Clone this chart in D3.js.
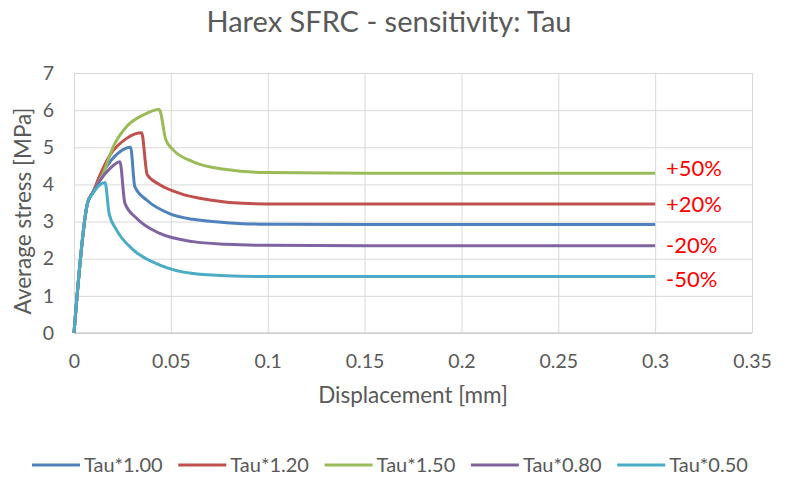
<!DOCTYPE html>
<html>
<head>
<meta charset="utf-8">
<script src="https://cdn.jsdelivr.net/npm/d3@7"></script>
<style>
  body { margin: 0; background: #fff; }
  text { font-family: Lato, "Open Sans", sans-serif; fill: #595959; }
</style>
</head>
<body>
<script>
var W = 785, H = 477;

// data
var titleText = "Harex SFRC - sensitivity: Tau";
var seriesNames = ["Tau*1.00", "Tau*1.20", "Tau*1.50", "Tau*0.80", "Tau*0.50"];
var seriesColors = ["#4f81bd", "#c0504d", "#9bbb59", "#8064a2", "#4bacc6"];

var dispTau100 = [0, 0.007, 0.0099, 0.0134, 0.0186, 0.0237, 0.0292, 0.0314, 0.0375, 0.05, 0.0615, 0.0787, 0.096, 0.15, 0.3];
var stressTau100 = [0, 3.5, 3.8, 4.2, 4.61, 4.88, 5.0, 3.94, 3.58, 3.2, 3.06, 2.97, 2.93, 2.92, 2.92];

var dispTau120 = [0, 0.007, 0.0099, 0.0134, 0.0186, 0.0272, 0.0349, 0.0378, 0.0443, 0.0546, 0.0701, 0.0873, 0.1045, 0.15, 0.3];
var stressTau120 = [0, 3.5, 3.8, 4.25, 4.79, 5.24, 5.39, 4.26, 3.99, 3.76, 3.58, 3.49, 3.47, 3.47, 3.47];

var dispTau150 = [0, 0.007, 0.0099, 0.0151, 0.0203, 0.0272, 0.0357, 0.044, 0.0474, 0.0512, 0.0615, 0.0787, 0.0993, 0.15, 0.3];
var stressTau150 = [0, 3.5, 3.8, 4.3, 5.02, 5.56, 5.87, 6.02, 5.2, 4.93, 4.61, 4.4, 4.32, 4.3, 4.3];

var dispTau080 = [0, 0.007, 0.0099, 0.0134, 0.0186, 0.0237, 0.0263, 0.0323, 0.0443, 0.0615, 0.0787, 0.0993, 0.15, 0.3];
var stressTau080 = [0, 3.5, 3.8, 4.1, 4.43, 4.61, 3.49, 3.09, 2.68, 2.46, 2.39, 2.36, 2.35, 2.35];

var dispTau050 = [0, 0.007, 0.0099, 0.0134, 0.016, 0.0182, 0.022, 0.0306, 0.0443, 0.0615, 0.0787, 0.1045, 0.15, 0.3];
var stressTau050 = [0, 3.5, 3.77, 3.99, 4.05, 3.2, 2.77, 2.24, 1.83, 1.6, 1.54, 1.52, 1.52, 1.52];

var xTicks = [0, 0.05, 0.1, 0.15, 0.2, 0.25, 0.3, 0.35];
var yTicks = [0, 1, 2, 3, 4, 5, 6, 7];

var noteLabels = ["+50%", "+20%", "-20%", "-50%"];

var allDisp = [dispTau100, dispTau120, dispTau150, dispTau080, dispTau050];
var allStress = [stressTau100, stressTau120, stressTau150, stressTau080, stressTau050];

var series = [];
for (var s = 0; s < seriesNames.length; s++) {
    var pts = [];
    for (var i = 0; i < allDisp[s].length; i++) {
        pts.push({x: allDisp[s][i], y: allStress[s][i]});
    }
    series.push({name: seriesNames[s], color: seriesColors[s], pts: pts});
}

var plot = {left: 74, right: 752, top: 73, bottom: 333};

var x = d3.scaleLinear().domain([0, 0.35]).range([plot.left, plot.right]);
var y = d3.scaleLinear().domain([0, 7]).range([plot.bottom, plot.top]);

var svg = d3.select("body").append("svg")
    .attr("width", W)
    .attr("height", H);

// title
svg.append("text")
    .attr("x", 389).attr("y", 32)
    .attr("text-anchor", "middle")
    .style("font-size", "29px")
    .text(titleText);

// gridlines + tick labels via axes
var gx = svg.append("g")
    .attr("transform", "translate(0," + plot.bottom + ")")
    .call(d3.axisBottom(x).tickValues(xTicks).tickSize(-(plot.bottom - plot.top)).tickPadding(21)
        .tickFormat(function(d) { return d3.format("~g")(+d.toFixed(2)); }));
gx.select(".domain").remove();
gx.selectAll("line").attr("stroke", "#d9d9d9");
gx.selectAll("text").style("font-size", "19.5px").attr("fill", "#595959");

var gy = svg.append("g")
    .attr("transform", "translate(" + plot.left + ",0)")
    .call(d3.axisLeft(y).tickValues(yTicks).tickSize(-(plot.right - plot.left)).tickPadding(20)
        .tickFormat(d3.format("d")));
gy.select(".domain").remove();
gy.selectAll("line").attr("stroke", "#d9d9d9");
gy.selectAll("text").style("font-size", "19.5px").attr("fill", "#595959");

// axis base line
svg.append("line")
    .attr("x1", plot.left).attr("x2", plot.right)
    .attr("y1", y(0)).attr("y2", y(0))
    .attr("stroke", "#bfbfbf");

// axis titles
svg.append("text")
    .attr("x", 413).attr("y", 403)
    .attr("text-anchor", "middle")
    .style("font-size", "22.5px")
    .text("Displacement [mm]");

svg.append("text")
    .attr("transform", "translate(31,211) rotate(-90)")
    .attr("text-anchor", "middle")
    .style("font-size", "22.5px")
    .text("Average stress [MPa]");

// curves
var line = d3.line()
    .x(function(d) { return x(d.x); })
    .y(function(d) { return y(d.y); })
    .curve(d3.curveMonotoneX);

svg.selectAll("path.curve")
    .data(series)
    .enter()
    .append("path")
    .attr("class", "curve")
    .attr("d", function(d) { return line(d.pts); })
    .attr("fill", "none")
    .attr("stroke", function(d) { return d.color; })
    .attr("stroke-width", 3)
    .attr("stroke-linejoin", "round");

// red percentage notes
var noteY = [168, 204, 245, 279];
svg.selectAll("text.note")
    .data(noteLabels)
    .enter()
    .append("text")
    .attr("class", "note")
    .attr("x", 666)
    .attr("y", function(d, i) { return noteY[i] + 8; })
    .style("font-size", "22px")
    .style("fill", "#ff0000")
    .text(function(d) { return d; });

// legend
var legend = svg.selectAll("g.leg")
    .data(series)
    .enter()
    .append("g")
    .attr("class", "leg")
    .attr("transform", function(d, i) { return "translate(" + (32 + i * 146.3) + ",465)"; });

legend.append("line")
    .attr("x1", 0).attr("x2", 48)
    .attr("stroke", function(d) { return d.color; })
    .attr("stroke-width", 3);

legend.append("text")
    .attr("x", 52).attr("y", 7)
    .style("font-size", "20px")
    .text(function(d) { return d.name; });
</script>
</body>
</html>
